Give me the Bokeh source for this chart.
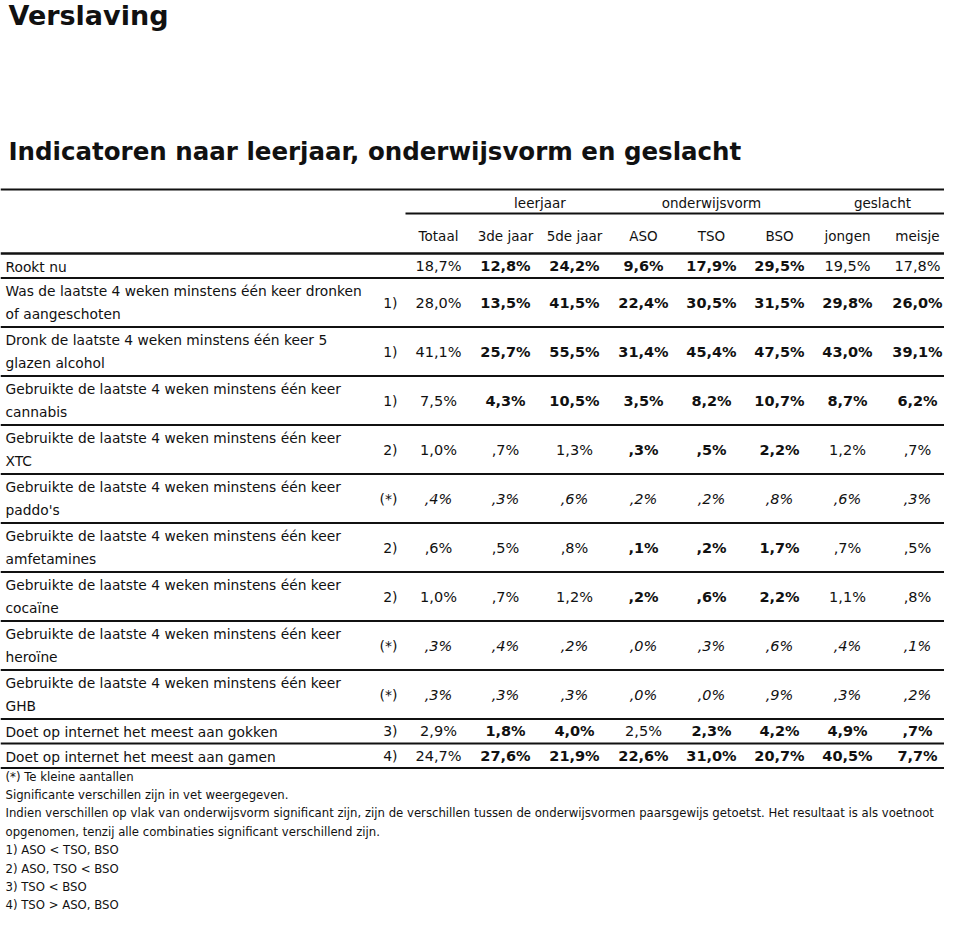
from bokeh.plotting import figure
from bokeh.models import Range1d
from bokeh.core.properties import value
from bokeh.embed import file_html
from bokeh.resources import INLINE

# ---------------- data ----------------
page_title = "Verslaving"
table_title = "Indicatoren naar leerjaar, onderwijsvorm en geslacht"

groups = ["leerjaar", "onderwijsvorm", "geslacht"]
group_span = [(1, 2), (3, 5), (6, 7)]          # column indices covered by each group
columns = ["Totaal", "3de jaar", "5de jaar", "ASO", "TSO", "BSO", "jongen", "meisje"]

labels = [
    ["Rookt nu"],
    ["Was de laatste 4 weken minstens één keer dronken", "of aangeschoten"],
    ["Dronk de laatste 4 weken minstens één keer 5", "glazen alcohol"],
    ["Gebruikte de laatste 4 weken minstens één keer", "cannabis"],
    ["Gebruikte de laatste 4 weken minstens één keer", "XTC"],
    ["Gebruikte de laatste 4 weken minstens één keer", "paddo's"],
    ["Gebruikte de laatste 4 weken minstens één keer", "amfetamines"],
    ["Gebruikte de laatste 4 weken minstens één keer", "cocaïne"],
    ["Gebruikte de laatste 4 weken minstens één keer", "heroïne"],
    ["Gebruikte de laatste 4 weken minstens één keer", "GHB"],
    ["Doet op internet het meest aan gokken"],
    ["Doet op internet het meest aan gamen"],
]
markers = ["", "1)", "1)", "1)", "2)", "(*)", "2)", "2)", "(*)", "(*)", "3)", "4)"]

totaal = [18.7, 28.0, 41.1, 7.5, 1.0, 0.4, 0.6, 1.0, 0.3, 0.3, 2.9, 24.7]
jaar3  = [12.8, 13.5, 25.7, 4.3, 0.7, 0.3, 0.5, 0.7, 0.4, 0.3, 1.8, 27.6]
jaar5  = [24.2, 41.5, 55.5, 10.5, 1.3, 0.6, 0.8, 1.2, 0.2, 0.3, 4.0, 21.9]
aso    = [9.6, 22.4, 31.4, 3.5, 0.3, 0.2, 0.1, 0.2, 0.0, 0.0, 2.5, 22.6]
tso    = [17.9, 30.5, 45.4, 8.2, 0.5, 0.2, 0.2, 0.6, 0.3, 0.0, 2.3, 31.0]
bso    = [29.5, 31.5, 47.5, 10.7, 2.2, 0.8, 1.7, 2.2, 0.6, 0.9, 4.2, 20.7]
jongen = [19.5, 29.8, 43.0, 8.7, 1.2, 0.6, 0.7, 1.1, 0.4, 0.3, 4.9, 40.5]
meisje = [17.8, 26.0, 39.1, 6.2, 0.7, 0.3, 0.5, 0.8, 0.1, 0.2, 0.7, 7.7]

# significant (bold) flags per row, columns Totaal..meisje
significant = [
    [0, 1, 1, 1, 1, 1, 0, 0],
    [0, 1, 1, 1, 1, 1, 1, 1],
    [0, 1, 1, 1, 1, 1, 1, 1],
    [0, 1, 1, 1, 1, 1, 1, 1],
    [0, 0, 0, 1, 1, 1, 0, 0],
    [0, 0, 0, 0, 0, 0, 0, 0],
    [0, 0, 0, 1, 1, 1, 0, 0],
    [0, 0, 0, 1, 1, 1, 0, 0],
    [0, 0, 0, 0, 0, 0, 0, 0],
    [0, 0, 0, 0, 0, 0, 0, 0],
    [0, 1, 1, 0, 1, 1, 1, 1],
    [0, 1, 1, 1, 1, 1, 1, 1],
]

footnotes = [
    "(*) Te kleine aantallen",
    "Significante verschillen zijn in vet weergegeven.",
    "Indien verschillen op vlak van onderwijsvorm significant zijn, zijn de verschillen tussen de onderwijsvormen paarsgewijs getoetst. Het resultaat is als voetnoot",
    "opgenomen, tenzij alle combinaties significant verschillend zijn.",
    "1) ASO < TSO, BSO",
    "2) ASO, TSO < BSO",
    "3) TSO < BSO",
    "4) TSO > ASO, BSO",
]

series = [totaal, jaar3, jaar5, aso, tso, bso, jongen, meisje]


def fmt(v):
    s = f"{v:.1f}".replace(".", ",")
    if s.startswith("0,"):
        s = s[1:]
    return s + "%"


# ---------------- layout ----------------
W, H = 944, 914
FONT = value("DejaVu Sans")
INK = "#111111"

p = figure(width=W, height=H, x_range=Range1d(0, W), y_range=Range1d(H, 0),
           output_backend="svg", toolbar_location=None, min_border=0,
           x_axis_type=None, y_axis_type=None, outline_line_color=None,
           background_fill_color="white", border_fill_color="white")
p.grid.visible = False

label_x = 5
marker_x = 397
col_x = [438, 505, 574, 643, 711, 779, 847, 917]
line_x0, line_x1 = 0, W

# titles
p.text(x=[8], y=[15], text=[page_title], text_font=FONT, text_font_size="27px",
       text_font_style="bold", text_baseline="middle", text_align="left", text_color=INK)
p.text(x=[8], y=[151], text=[table_title], text_font=FONT, text_font_size="24.5px",
       text_font_style="bold", text_baseline="middle", text_align="left", text_color=INK)

# header lines
p.segment(x0=[line_x0], y0=[189], x1=[line_x1], y1=[189], line_color=INK, line_width=2)
p.segment(x0=[405], y0=[213], x1=[line_x1], y1=[213], line_color=INK, line_width=2)
p.segment(x0=[line_x0], y0=[253], x1=[line_x1], y1=[253], line_color=INK, line_width=2.5)

# group headers
gx = [(col_x[a] + col_x[b]) / 2 for a, b in group_span]
p.text(x=gx, y=[202] * len(groups), text=groups, text_font=FONT, text_font_size="13.5px",
       text_baseline="middle", text_align="center", text_color=INK)
# column headers
p.text(x=col_x, y=[235] * len(columns), text=columns, text_font=FONT, text_font_size="13.5px",
       text_baseline="middle", text_align="center", text_color=INK)

# rows
row_top = 253
single_h, double_h = 24.5, 49
tops, centers, bottoms = [], [], []
y = row_top
for lab in labels:
    h = double_h if len(lab) == 2 else single_h
    tops.append(y)
    centers.append(y + h / 2)
    y += h
    bottoms.append(y)

# row separator lines
p.segment(x0=[line_x0] * len(bottoms), y0=bottoms, x1=[line_x1] * len(bottoms), y1=bottoms,
          line_color=INK, line_width=2)

# labels
lx, ly, lt = [], [], []
for lab, c in zip(labels, centers):
    if len(lab) == 1:
        lx.append(label_x); ly.append(c + 1); lt.append(lab[0])
    else:
        lx += [label_x, label_x]; ly += [c - 11.5, c + 11]; lt += lab
p.text(x=lx, y=ly, text=lt, text_font=FONT, text_font_size="13.8px",
       text_baseline="middle", text_align="left", text_color=INK)

# markers
mk = [(m, c) for m, c in zip(markers, centers) if m]
p.text(x=[marker_x] * len(mk), y=[c for _, c in mk], text=[m for m, _ in mk], text_font=FONT,
       text_font_size="14px", text_baseline="middle", text_align="right", text_color=INK)

# values
cells = {"normal": ([], [], []), "bold": ([], [], []), "italic": ([], [], [])}
for r, c in enumerate(centers):
    small = markers[r] == "(*)"
    for j, ser in enumerate(series):
        style = "italic" if small else ("bold" if significant[r][j] else "normal")
        xs, ys, ts = cells[style]
        xs.append(col_x[j]); ys.append(c); ts.append(fmt(ser[r]))
for style, (xs, ys, ts) in cells.items():
    p.text(x=xs, y=ys, text=ts, text_font=FONT, text_font_size="14.5px",
           text_font_style=style, text_baseline="middle", text_align="center", text_color=INK)

# footnotes
fy = [776 + 18.4 * i for i in range(len(footnotes))]
p.text(x=[label_x] * len(footnotes), y=fy, text=footnotes, text_font=FONT,
       text_font_size="11.7px", text_baseline="middle", text_align="left", text_color=INK)

open("out.html", "w").write(file_html(p, INLINE))
